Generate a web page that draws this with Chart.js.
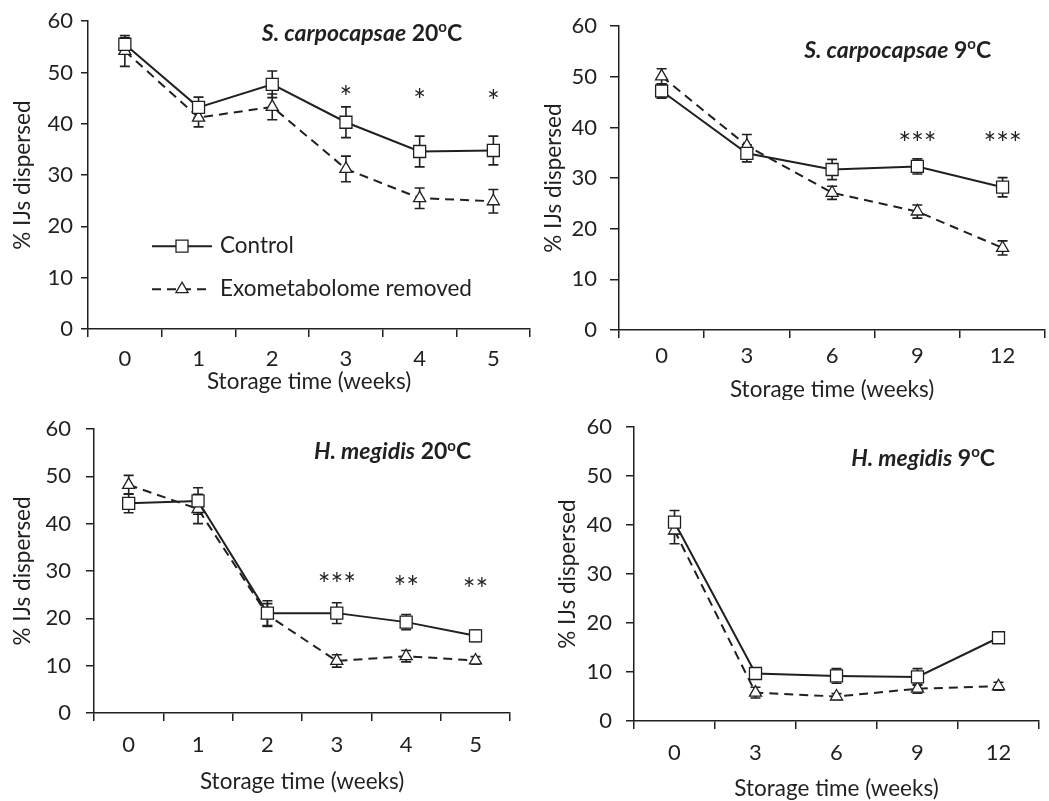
<!DOCTYPE html>
<html>
<head>
<meta charset="utf-8">
<script src="https://cdn.jsdelivr.net/npm/chart.js@4.4.0/dist/chart.umd.min.js"></script>
<style>
  html, body { margin: 0; padding: 0; background: #fff; overflow: hidden; width: 1049px; height: 801px; }
  canvas { position: absolute; }
</style>
</head>
<body>
<canvas id="p1" width="540" height="400" style="left:0;top:0"></canvas>
<canvas id="p2" width="525" height="400" style="left:530px;top:0"></canvas>
<canvas id="p3" width="520" height="401" style="left:0;top:400px"></canvas>
<canvas id="p4" width="519" height="401" style="left:530px;top:400px"></canvas>
<script>
// categories
const weeks20 = ['0', '1', '2', '3', '4', '5'];
const weeks9 = ['0', '3', '6', '9', '12'];

// S. carpocapsae 20C
const sc20Ctrl = [55.5, 43.2, 47.7, 40.3, 34.6, 34.8];
const sc20CtrlErr = [1.3, 2.0, 2.6, 3.0, 3.0, 2.8];
const sc20Exo = [54.2, 41.2, 43.3, 31.2, 25.5, 24.9];
const sc20ExoErr = [3.0, 1.8, 2.5, 2.5, 2.0, 2.3];
const sc20Sig = ['', '', '', '*', '*', '*'];
const sc20SigY = [null, null, null, 46.4, 45.8, 45.5];

// S. carpocapsae 9C
const sc9Ctrl = [47.2, 34.9, 31.7, 32.3, 28.2];
const sc9CtrlErr = [1.4, 1.7, 2.0, 1.5, 1.9];
const sc9Exo = [50.1, 36.4, 27.1, 23.4, 16.2];
const sc9ExoErr = [1.5, 2.2, 1.3, 1.3, 1.4];
const sc9Sig = ['', '', '', '***', '***'];
const sc9SigY = [null, null, null, 38.0, 38.0];

// H. megidis 20C
const hm20Ctrl = [44.3, 44.8, 21.1, 21.1, 19.2, 16.3];
const hm20CtrlErr = [2.0, 2.8, 2.6, 2.2, 1.6, 1.2];
const hm20Exo = [48.2, 43.1, 20.7, 11.0, 12.0, 11.1];
const hm20ExoErr = [2.0, 3.1, 2.4, 1.3, 1.2, 0.8];
const hm20Sig = ['', '', '', '***', '**', '**'];
const hm20SigY = [null, null, null, 28.5, 27.8, 27.4];

// H. megidis 9C
const hm9Ctrl = [40.6, 9.7, 9.2, 9.0, 17.0];
const hm9CtrlErr = [2.4, 1.0, 1.5, 1.7, 0.9];
const hm9Exo = [38.9, 5.8, 5.0, 6.6, 7.1];
const hm9ExoErr = [2.7, 1.1, 0.6, 0.9, 0.8];

const seriesNames = ['Control', 'Exometabolome removed'];
const yTicks = [0, 10, 20, 30, 40, 50, 60];

const INK = '#231f20';
Chart.defaults.font.family = 'Lato';
Chart.defaults.color = INK;
Chart.defaults.animation = false;

const errorBars = {
  id: 'errorBars',
  beforeDatasetsDraw(chart) {
    const { ctx } = chart;
    const y = chart.scales.y;
    ctx.save();
    ctx.strokeStyle = INK;
    ctx.lineWidth = 1.6;
    chart.data.datasets.forEach((ds, i) => {
      const meta = chart.getDatasetMeta(i);
      meta.data.forEach((pt, j) => {
        const v = ds.data[j], e = ds.errors[j];
        const t = y.getPixelForValue(v + e), b = y.getPixelForValue(v - e);
        ctx.beginPath();
        ctx.moveTo(pt.x, t); ctx.lineTo(pt.x, b);
        ctx.moveTo(pt.x - 5, t); ctx.lineTo(pt.x + 5, t);
        ctx.moveTo(pt.x - 5, b); ctx.lineTo(pt.x + 5, b);
        ctx.stroke();
      });
    });
    ctx.restore();
  }
};

function drawMarker(ctx, style, x, y) {
  ctx.beginPath();
  if (style === 'rect') {
    ctx.rect(x - 6, y - 6, 12, 12);
  } else {
    ctx.moveTo(x, y - 7);
    ctx.lineTo(x + 6.1, y + 3.5);
    ctx.lineTo(x - 6.1, y + 3.5);
    ctx.closePath();
  }
  ctx.fillStyle = '#fff';
  ctx.fill();
  ctx.lineWidth = 1.3;
  ctx.strokeStyle = INK;
  ctx.stroke();
}

const extras = {
  id: 'extras',
  afterDraw(chart, args, opts) {
    const { ctx, chartArea } = chart;
    const x = chart.scales.x, y = chart.scales.y;
    ctx.save();
    // panel title with italic species and superscript degree
    let total = 0;
    const segs = opts.title.map(s => {
      const size = s.sup ? 15 : 23;
      const font = (s.italic ? 'italic ' : '') + 'bold ' + size + 'px Lato';
      ctx.font = font;
      const w = ctx.measureText(s.t).width;
      total += w;
      return { ...s, font, w };
    });
    let cx = chartArea.right - opts.titleRight - total;
    const cy = chartArea.top + opts.titleTop;
    ctx.textBaseline = 'middle';
    ctx.textAlign = 'left';
    ctx.fillStyle = INK;
    segs.forEach(s => {
      ctx.font = s.font;
      ctx.fillText(s.t, cx, s.sup ? cy - 6 : cy);
      cx += s.w;
    });
    // significance asterisks
    if (opts.sig) {
      ctx.font = '30px Lato';
      ctx.textAlign = 'center';
      opts.sig.forEach((s, i) => {
        if (!s) return;
        ctx.fillText(s, x.getPixelForValue(i), y.getPixelForValue(opts.sigY[i]) + 7);
      });
    }
    // legend
    if (opts.legend) {
      const lx = chartArea.left + 64, ly = chartArea.top + 225, gap = 43;
      chart.data.datasets.forEach((ds, i) => {
        const yy = ly + i * gap;
        ctx.beginPath();
        ctx.setLineDash(ds.borderDash || []);
        ctx.lineWidth = 2;
        ctx.strokeStyle = INK;
        ctx.moveTo(lx, yy); ctx.lineTo(lx + 60, yy);
        ctx.stroke();
        ctx.setLineDash([]);
        drawMarker(ctx, ds.pointStyle, lx + 30, yy);
        ctx.fillStyle = INK;
        ctx.font = '22.5px Lato';
        ctx.textAlign = 'left';
        ctx.fillText(ds.label, lx + 68, yy);
      });
    }
    ctx.restore();
  }
};

function makePanel(id, labels, ctrl, ctrlErr, exo, exoErr, L) {
  return new Chart(document.getElementById(id), {
    type: 'line',
    data: {
      labels,
      datasets: [
        {
          label: seriesNames[0], data: ctrl, errors: ctrlErr,
          borderColor: INK, borderWidth: 2, pointStyle: 'rect', pointRadius: 8.5,
          pointBackgroundColor: '#fff', pointBorderColor: INK, pointBorderWidth: 1.3
        },
        {
          label: seriesNames[1], data: exo, errors: exoErr,
          borderColor: INK, borderWidth: 2, borderDash: [9, 6], pointStyle: 'triangle', pointRadius: 7,
          pointBackgroundColor: '#fff', pointBorderColor: INK, pointBorderWidth: 1.3
        }
      ]
    },
    options: {
      responsive: false,
      layout: { padding: { top: L.top, right: L.right, left: 0, bottom: 0 } },
      scales: {
        x: {
          type: 'category', offset: true,
          grid: { offset: true, drawOnChartArea: false, tickLength: 8, color: INK, lineWidth: 1.5 },
          border: { color: INK, width: 1.5 },
          ticks: { font: { size: 22 }, padding: L.xPad, color: INK },
          title: { display: true, text: 'Storage time (weeks)', font: { size: 22.5 }, padding: { bottom: L.xTitle } },
          afterFit: s => { s.height = L.xH; }
        },
        y: {
          min: 0, max: 60,
          afterBuildTicks: s => { s.ticks = yTicks.map(v => ({ value: v })); },
          grid: { drawOnChartArea: false, tickLength: L.yTick, color: INK, lineWidth: 1.5 },
          border: { color: INK, width: 1.5 },
          ticks: { font: { size: 22 }, padding: L.yPad, color: INK },
          title: { display: true, text: '% IJs dispersed', font: { size: 22.5 }, padding: { top: L.yTitle } },
          afterFit: s => { s.width = L.yW; }
        }
      },
      plugins: {
        legend: { display: false },
        tooltip: { enabled: false },
        extras: L.extras
      }
    },
    plugins: [errorBars, extras]
  });
}

makePanel('p1', weeks20, sc20Ctrl, sc20CtrlErr, sc20Exo, sc20ExoErr, {
  top: 20, right: 2, xH: 71, yW: 88, xPad: 9, yPad: 8, yTick: 7, xTitle: 5, yTitle: 9,
  extras: {
    title: [{ t: 'S. carpocapsae', italic: true }, { t: ' 20' }, { t: 'o', sup: true }, { t: 'C' }],
    titleRight: 68, titleTop: 12, sig: sc20Sig, sigY: sc20SigY, legend: true
  }
});
makePanel('p2', weeks9, sc9Ctrl, sc9CtrlErr, sc9Exo, sc9ExoErr, {
  top: 14, right: 3, xH: 70, yW: 89, xPad: 5, yPad: 13, yTick: 9, xTitle: -3, yTitle: 10,
  extras: {
    title: [{ t: 'S. carpocapsae', italic: true }, { t: ' 9' }, { t: 'o', sup: true }, { t: 'C' }],
    titleRight: 54, titleTop: 24, sig: sc9Sig, sigY: sc9SigY
  }
});
makePanel('p3', weeks20, hm20Ctrl, hm20CtrlErr, hm20Exo, hm20ExoErr, {
  top: 29, right: 4, xH: 88, yW: 94, xPad: 11, yPad: 15, yTick: 8, xTitle: 6, yTitle: 9,
  extras: {
    title: [{ t: 'H. megidis', italic: true }, { t: ' 20' }, { t: 'o', sup: true }, { t: 'C' }],
    titleRight: 39, titleTop: 23, sig: hm20Sig, sigY: hm20SigY
  }
});
makePanel('p4', weeks9, hm9Ctrl, hm9CtrlErr, hm9Exo, hm9ExoErr, {
  top: 27, right: 10, xH: 80, yW: 104, xPad: 11, yPad: 14, yTick: 8, xTitle: -1, yTitle: 24,
  extras: {
    title: [{ t: 'H. megidis', italic: true }, { t: ' 9' }, { t: 'o', sup: true }, { t: 'C' }],
    titleRight: 44, titleTop: 31
  }
});
</script>
</body>
</html>
